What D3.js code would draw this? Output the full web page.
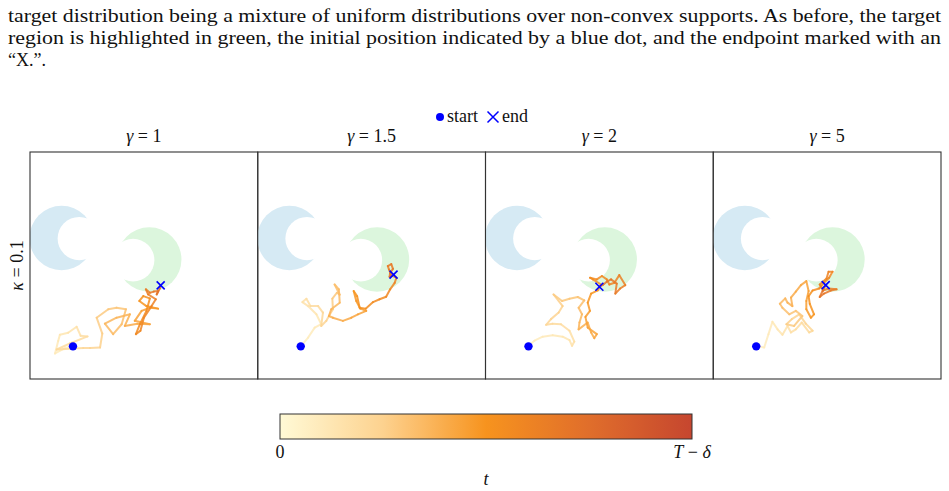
<!DOCTYPE html>
<html>
<head>
<meta charset="utf-8">
<script src="https://cdn.jsdelivr.net/npm/d3@7"></script>
<style>
  body { margin: 0; background: #fff; }
  svg text { font-family: "Liberation Serif", "Times New Roman", serif; fill: #111; }
</style>
</head>
<body>
<div id="figure"></div>
<script>
// panel titles and row label
let gammaLabels = ["1", "1.5", "2", "5"];
let kappaLabel = "0.1";

// crescents: [outer cx, outer cy, outer r, inner cx, inner cy, inner r]
let sourceCrescent = [-2.89, 0.97, 1.13, -2.27, 0.95, 0.76];
let targetCrescent = [0.19, 0.21, 1.13, -0.38, 0.19, 0.75];

let startPoint = [-2.49, -2.85];

// trajectories, one per gamma
let trajGamma1 = [
  [-2.49, -2.85], [-2.77, -2.91], [-3.12, -3.10], [-3.01, -2.66], [-2.95, -2.44],
  [-2.66, -2.37], [-2.36, -2.16], [-2.22, -2.48], [-1.98, -2.50], [-2.60, -2.75],
  [-3.06, -2.96], [-2.13, -2.91], [-1.89, -2.91], [-1.54, -2.89], [-1.46, -2.40],
  [-1.66, -1.84], [-1.25, -1.54], [-0.96, -1.49], [-0.63, -1.54], [-0.78, -2.07],
  [-1.08, -2.42], [-1.37, -2.05], [-0.96, -1.84], [-0.49, -1.72], [-0.67, -2.13],
  [-0.23, -2.05], [0.21, -2.07], [-0.32, -1.95], [-0.08, -1.60], [0.21, -1.49],
  [0.50, -1.52], [0.09, -1.43], [-0.16, -1.25], [-0.02, -1.08], [0.21, -1.16],
  [0.09, -1.60], [-0.14, -2.07], [-0.28, -2.42], [-0.12, -2.30], [0.00, -1.84],
  [0.27, -1.43], [0.42, -1.19], [0.15, -1.02], [0.07, -0.84], [0.21, -0.96],
  [0.35, -0.92], [0.50, -0.90], [0.45, -1.02], [0.56, -0.81], [0.59, -0.70]
];
let trajGamma15 = [
  [-2.49, -2.85], [-2.23, -2.54], [-2.00, -2.19], [-1.77, -2.07], [-1.94, -1.72],
  [-2.23, -1.43], [-2.43, -1.29], [-2.29, -1.17], [-2.15, -1.43], [-1.88, -1.43],
  [-1.71, -1.66], [-1.77, -2.13], [-1.59, -1.95], [-1.50, -1.78], [-1.36, -1.54],
  [-1.38, -1.17], [-1.22, -0.96], [-1.12, -1.03], [-1.30, -0.67], [-1.15, -0.84],
  [-1.12, -1.31], [-1.42, -1.54], [-1.50, -1.78], [-1.36, -1.84], [-1.01, -1.95],
  [-0.71, -1.84], [-0.48, -1.72], [-0.19, -1.60], [-0.40, -1.52], [-0.54, -1.25],
  [-0.63, -0.90], [-0.51, -1.08], [-0.42, -1.49], [-0.21, -1.52], [0.05, -1.29],
  [0.28, -1.19], [0.51, -1.10], [0.65, -0.84], [0.81, -0.61], [0.87, -0.43],
  [0.69, -0.35], [0.61, -0.14], [0.57, -0.02], [0.69, 0.05], [0.75, -0.12],
  [0.65, -0.26], [0.63, -0.40], [0.77, -0.32]
];
let trajGamma2 = [
  [-2.49, -2.83], [-2.28, -2.65], [-1.99, -2.51], [-1.64, -2.46], [-1.29, -2.51],
  [-1.05, -2.63], [-0.96, -2.83], [-0.88, -2.68], [-1.05, -2.30], [-1.35, -2.07],
  [-1.64, -2.05], [-1.87, -2.09], [-1.70, -1.89], [-1.43, -1.66], [-1.29, -1.43],
  [-1.61, -1.02], [-1.31, -1.25], [-1.05, -1.17], [-0.76, -1.11], [-0.53, -1.23],
  [-0.73, -1.49], [-0.61, -1.72], [-0.70, -2.01], [-0.73, -2.25], [-0.41, -2.01],
  [-0.29, -2.36], [-0.18, -2.56], [-0.09, -2.42], [-0.41, -2.19], [-0.49, -1.81],
  [-0.33, -1.60], [-0.41, -1.31], [-0.29, -0.99], [-0.06, -0.88], [0.06, -0.67],
  [-0.23, -0.49], [-0.33, -0.43], [-0.09, -0.49], [0.09, -0.37], [0.26, -0.49],
  [0.35, -0.67], [0.53, -0.61], [0.70, -0.34], [0.91, -0.69], [0.73, -0.81],
  [0.56, -0.99], [0.61, -0.64], [0.41, -0.49], [0.26, -0.57], [0.14, -0.67],
  [0.00, -0.75]
];
let trajGamma5 = [
  [-2.50, -2.83], [-2.21, -2.89], [-2.06, -2.42], [-1.92, -1.98], [-1.74, -2.25],
  [-1.57, -2.44], [-1.39, -2.13], [-1.27, -2.36], [-1.10, -2.25], [-0.89, -2.01],
  [-0.63, -2.36], [-0.51, -2.30], [-0.75, -2.05], [-0.98, -1.72], [-1.24, -1.89],
  [-1.43, -2.07], [-1.16, -2.13], [-0.87, -1.78], [-1.10, -1.60], [-1.33, -1.72],
  [-1.57, -1.49], [-1.66, -1.35], [-1.47, -1.16], [-1.39, -1.31], [-1.22, -1.43],
  [-1.27, -1.13], [-1.10, -0.92], [-0.92, -0.69], [-0.73, -0.55], [-0.65, -0.90],
  [-0.73, -1.25], [-0.73, -1.54], [-0.57, -1.84], [-0.46, -1.72], [-0.61, -1.35],
  [-0.65, -1.08], [-0.51, -0.88], [-0.28, -0.81], [-0.11, -0.61], [0.07, -0.43],
  [0.19, -0.22], [0.05, -0.22], [-0.02, -0.46], [-0.26, -0.67], [-0.14, -0.88],
  [0.05, -0.81], [0.33, -0.84], [0.13, -0.88], [-0.11, -0.99], [-0.26, -1.11],
  [-0.16, -0.90], [-0.05, -0.69]
];
let trajectories = [trajGamma1, trajGamma15, trajGamma2, trajGamma5];

// colour map of t, from 0 to T - delta
let cmapStops = ["#fffad6", "#fdd28f", "#f7931e", "#e06e2b", "#c6462f"];
// portion of the colour map the plotted paths cover
let pathColourRange = [0.08, 0.72];

let figW = 949, figH = 491;
let panel = { left: 30, top: 152, width: 227.75, height: 227 };
let domain = [-4, 4];
let eqSign = " = ";

let svg = d3.select("#figure").append("svg")
  .attr("width", figW)
  .attr("height", figH);

// caption text above the figure
let captionLines = [
  "target distribution being a mixture of uniform distributions over non-convex supports. As before, the target",
  "region is highlighted in green, the initial position indicated by a blue dot, and the endpoint marked with an",
  "\u201CX.\u201D."
];
captionLines.forEach(function(line, i) {
  let t = svg.append("text")
    .attr("x", 8)
    .attr("y", 22 + i * 22)
    .attr("font-size", 18)
    .text(line);
  if (i < 2) {
    t.attr("textLength", 933).attr("lengthAdjust", "spacingAndGlyphs");
  }
});

let xScale = d3.scaleLinear().domain(domain).range([0, panel.width]);
let yScale = d3.scaleLinear().domain(domain).range([panel.height, 0]);
let rScale = r => xScale(r) - xScale(0);
let colour = d3.piecewise(d3.interpolateRgb, cmapStops);

function drawCrescent(g, c, fill) {
  g.append("circle")
    .attr("cx", xScale(c[0]))
    .attr("cy", yScale(c[1]))
    .attr("r", rScale(c[2]))
    .attr("fill", fill);
  g.append("circle")
    .attr("cx", xScale(c[3]))
    .attr("cy", yScale(c[4]))
    .attr("r", rScale(c[5]))
    .attr("fill", "#fff");
}

function drawCross(g, cx, cy, size, width) {
  g.append("path")
    .attr("d", `M${cx - size},${cy - size}L${cx + size},${cy + size}M${cx - size},${cy + size}L${cx + size},${cy - size}`)
    .attr("stroke", "#0000ff")
    .attr("stroke-width", width)
    .attr("fill", "none");
}

gammaLabels.forEach(function(gamma, i) {
  let g = svg.append("g")
    .attr("transform", `translate(${panel.left + i * panel.width}, ${panel.top})`);

  let defs = g.append("clipPath").attr("id", "clip" + i);
  defs.append("rect").attr("width", panel.width).attr("height", panel.height);

  let inner = g.append("g").attr("clip-path", `url(#clip${i})`);

  drawCrescent(inner, sourceCrescent, "#d6eaf4");
  drawCrescent(inner, targetCrescent, "#dcf6dd");

  let path = trajectories[i];
  let n = path.length;
  let tScale = d3.scaleLinear().domain([0, n - 2]).range(pathColourRange);
  inner.selectAll("line.seg")
    .data(d3.pairs(path))
    .enter().append("line")
    .attr("class", "seg")
    .attr("x1", d => xScale(d[0][0]))
    .attr("y1", d => yScale(d[0][1]))
    .attr("x2", d => xScale(d[1][0]))
    .attr("y2", d => yScale(d[1][1]))
    .attr("stroke", (d, j) => colour(tScale(j)))
    .attr("stroke-width", 2)
    .attr("stroke-opacity", 0.85)
    .attr("stroke-linecap", "round")
    .attr("stroke-linejoin", "round");

  inner.append("circle")
    .attr("cx", xScale(startPoint[0]))
    .attr("cy", yScale(startPoint[1]))
    .attr("r", 4.2)
    .attr("fill", "#0000ff");

  let end = path[n - 1];
  drawCross(inner, xScale(end[0]), yScale(end[1]), 4, 1.6);

  g.append("rect")
    .attr("width", panel.width)
    .attr("height", panel.height)
    .attr("fill", "none")
    .attr("stroke", "#333")
    .attr("stroke-width", 1.1);

  let title = g.append("text")
    .attr("x", panel.width / 2)
    .attr("y", -10)
    .attr("text-anchor", "middle")
    .attr("font-size", 18);
  title.append("tspan").attr("font-style", "italic").text("\u03B3");
  title.append("tspan").text(eqSign + gamma);
});

// row label
let yLab = svg.append("text")
  .attr("transform", `translate(23, ${panel.top + panel.height / 2}) rotate(-90)`)
  .attr("text-anchor", "middle")
  .attr("font-size", 18);
yLab.append("tspan").attr("font-style", "italic").text("\u03BA");
yLab.append("tspan").text(eqSign + kappaLabel);

// legend
let legend = svg.append("g");
legend.append("circle").attr("cx", 440).attr("cy", 117).attr("r", 4).attr("fill", "#0000ff");
legend.append("text").attr("x", 447).attr("y", 122).attr("font-size", 18).text("start");
drawCross(legend, 493, 117, 5.5, 1.5);
legend.append("text").attr("x", 502).attr("y", 122).attr("font-size", 18).text("end");

// colour bar
let cb = { x: 280, y: 414, width: 412, height: 25 };
let grad = svg.append("defs").append("linearGradient").attr("id", "cbar");
d3.range(0, 1.0001, 0.05).forEach(function(s) {
  grad.append("stop").attr("offset", s).attr("stop-color", colour(s));
});
svg.append("rect")
  .attr("x", cb.x).attr("y", cb.y)
  .attr("width", cb.width).attr("height", cb.height)
  .attr("fill", "url(#cbar)")
  .attr("stroke", "#333")
  .attr("stroke-width", 1);

let cbScale = d3.scaleLinear().domain([0, 1]).range([cb.x, cb.x + cb.width]);
svg.append("text")
  .attr("x", cbScale(0)).attr("y", cb.y + cb.height + 19)
  .attr("text-anchor", "middle").attr("font-size", 18).text("0");
let tEnd = svg.append("text")
  .attr("x", cbScale(1)).attr("y", cb.y + cb.height + 19)
  .attr("text-anchor", "middle").attr("font-size", 18);
tEnd.append("tspan").attr("font-style", "italic").text("T");
tEnd.append("tspan").text(" \u2212 ");
tEnd.append("tspan").attr("font-style", "italic").text("\u03B4");

svg.append("text")
  .attr("x", cb.x + cb.width / 2).attr("y", 485)
  .attr("text-anchor", "middle").attr("font-size", 18)
  .attr("font-style", "italic").text("t");
</script>
</body>
</html>
